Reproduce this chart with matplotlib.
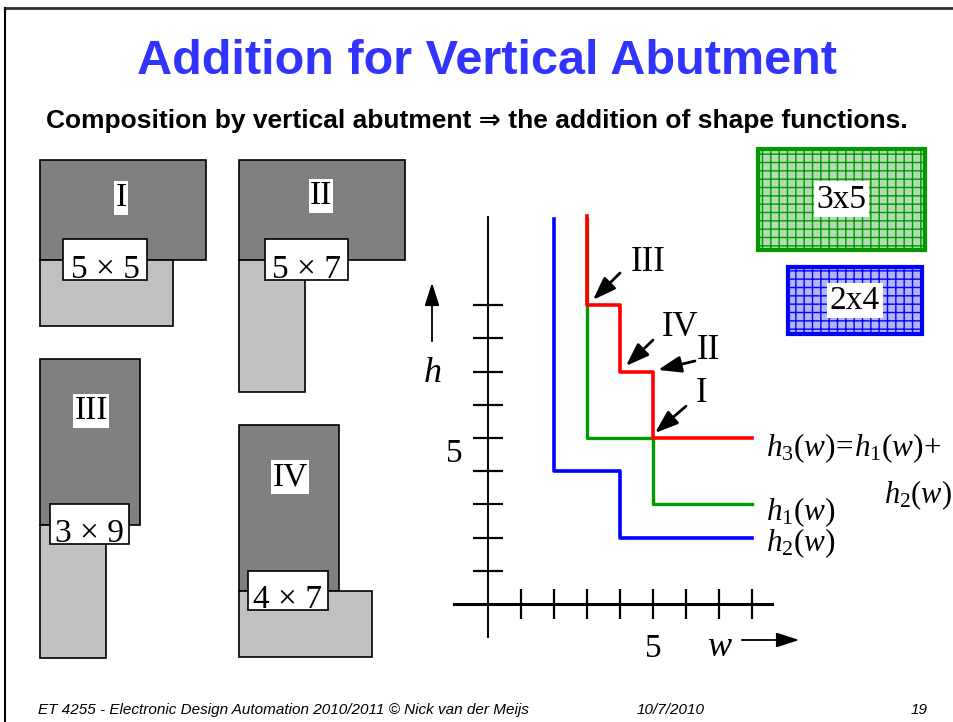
import matplotlib
matplotlib.use('Agg')
import matplotlib.pyplot as plt
from matplotlib.patches import Rectangle

plt.rcParams['mathtext.fontset'] = 'custom'
plt.rcParams['mathtext.rm'] = 'Liberation Serif'
plt.rcParams['mathtext.it'] = 'Liberation Serif:italic'

SERIF = 'Liberation Serif'
SANS = ['Liberation Sans', 'DejaVu Sans']

# shape functions, corner points (w, h)
h1_w = [3, 3, 5, 5, 8]
h1_h = [11.6, 5, 5, 3, 3]
h2_w = [2, 2, 4, 4, 8]
h2_h = [11.6, 4, 4, 2, 2]
h3_w = [3, 3, 4, 4, 5, 5, 8]
h3_h = [11.7, 9, 9, 7, 7, 5, 5]

# pointers to the corners of h3
corner_names = ['III', 'IV', 'II', 'I']
corner_heads = [(3.18, 9.16), (4.18, 7.17), (5.15, 7.05), (5.06, 5.15)]
corner_tails = [(4.0, 9.97), (5.0, 7.95), (6.27, 7.32), (6.0, 5.96)]
corner_text = [(4.85, 10.3), (5.82, 8.34), (6.67, 7.65), (6.48, 6.33)]

# the four compositions on the left
block_names = ['I', 'II', 'III', 'IV']
block_sizes = ['5 × 5', '5 × 7', '3 × 9', '4 × 7']
dark_dims = [(5, 3), (5, 3), (3, 5), (3, 5)]
light_dims = [(4, 2), (2, 4), (2, 4), (4, 2)]

# the two modules on the right
module_names = ['3x5', '2x4']
module_dims = [(5, 3), (4, 2)]

W, H = 954, 722
fig = plt.figure(figsize=(W / 100, H / 100), dpi=100)
ax = fig.add_axes([0, 0, 1, 1])
ax.set_xlim(0, W)
ax.set_ylim(H, 0)
ax.axis('off')

# slide frame
ax.plot([5, W], [8, 8], color='#303030', lw=2)
ax.plot([5, 5], [8, H], color='black', lw=1.5)

ax.text(487, 62, 'Addition for Vertical Abutment', ha='center', va='center',
        fontsize=35, fontweight='bold', color='#3333ff', family=SANS)
ax.text(477, 121, 'Composition by vertical abutment \u21d2 the addition of shape functions.',
        ha='center', va='center', fontsize=19, fontweight='bold', family=SANS)

# blocks
unit = 33.2
block_origin = [(40, 160), (239, 160), (40, 359), (239, 425)]
box_pos = [(63, 239, 84, 41), (265, 239, 83, 41), (50, 504, 79, 40), (248, 571, 80, 39)]
name_pos = [(121, 198), (321, 196), (91, 411), (290, 477)]
for i in range(len(block_names)):
    x0, y0 = block_origin[i]
    dw, dh = dark_dims[i]
    lw_, lh = light_dims[i]
    ax.add_patch(Rectangle((x0, y0), dw * unit, dh * unit, facecolor='#808080',
                           edgecolor='black', lw=1.2))
    ax.add_patch(Rectangle((x0, y0 + dh * unit), lw_ * unit, lh * unit,
                           facecolor='#c0c0c0', edgecolor='black', lw=1.2))
    bx, by, bw, bh = box_pos[i]
    ax.add_patch(Rectangle((bx, by), bw, bh, facecolor='white', edgecolor='black',
                           lw=1.2, zorder=3))
    ax.text(bx + bw / 2, by + bh - 2, block_sizes[i], ha='center', va='baseline',
            fontsize=24, family=SERIF, zorder=4)
    nx, ny = name_pos[i]
    ax.text(nx, ny, block_names[i], ha='center', va='center', fontsize=24,
            family=SERIF, bbox=dict(facecolor='white', edgecolor='none', pad=1))

# modules
mod_unit = 33.5
mod_origin = [(758, 149), (788, 267)]
mod_colors = ['#009900', '#0000ff']
mod_fill = ['#b4dcb4', '#b4b4f4']
for i in range(len(module_names)):
    x0, y0 = mod_origin[i]
    mw, mh = module_dims[i]
    ax.add_patch(Rectangle((x0, y0), mw * mod_unit, mh * mod_unit,
                           facecolor=mod_fill[i], edgecolor=mod_colors[i],
                           hatch='++', lw=0))
    ax.add_patch(Rectangle((x0, y0), mw * mod_unit, mh * mod_unit,
                           facecolor='none', edgecolor=mod_colors[i], lw=3))
    ax.text(x0 + mw * mod_unit / 2, y0 + mh * mod_unit / 2, module_names[i],
            ha='center', va='center', fontsize=24, family=SERIF,
            bbox=dict(facecolor='white', edgecolor='none', pad=2))

# axis arrows and names
ax.annotate('', xy=(432, 280), xytext=(432, 344),
            arrowprops=dict(arrowstyle='-|>,head_length=1.4,head_width=0.45',
                            color='black', lw=1.3))
ax.text(432, 372, '$h$', ha='center', va='center', fontsize=26)
ax.annotate('', xy=(802, 640), xytext=(739, 640),
            arrowprops=dict(arrowstyle='-|>,head_length=1.4,head_width=0.45',
                            color='black', lw=1.3))
ax.text(720, 646, '$w$', ha='center', va='center', fontsize=26)

# curve labels
ax.text(766, 448, r'$h_3(w)\!=\!h_1(w)\!+$', ha='left', va='center', fontsize=22.5)
ax.text(884, 495, r'$h_2(w)$', ha='left', va='center', fontsize=22)
ax.text(766, 512, r'$h_1(w)$', ha='left', va='center', fontsize=22.5)
ax.text(766, 543, r'$h_2(w)$', ha='left', va='center', fontsize=22.5)

# footer
ax.text(38, 710, 'ET 4255 - Electronic Design Automation 2010/2011 \u00a9 Nick van der Meijs',
        ha='left', va='center', fontsize=11, style='italic', family=SANS)
ax.text(637, 710, '10/7/2010', ha='left', va='center', fontsize=11,
        style='italic', family=SANS)
ax.text(928, 710, '19', ha='right', va='center', fontsize=11, style='italic',
        family=SANS)

# the chart
x_left, x_right, y_top, y_bot = 454, 772, 217, 637
ox, oy, sx, sy = 488, 604, 33.0, 33.2
cax = fig.add_axes([x_left / W, 1 - y_bot / H, (x_right - x_left) / W, (y_bot - y_top) / H])
cax.patch.set_alpha(0)
cax.set_xlim((x_left - ox) / sx, (x_right - ox) / sx)
cax.set_ylim((oy - y_bot) / sy, (oy - y_top) / sy)
for s in ['top', 'right']:
    cax.spines[s].set_visible(False)
cax.spines['left'].set_position(('data', 0))
cax.spines['bottom'].set_position(('data', 0))
cax.spines['bottom'].set_linewidth(2.2)
cax.spines['left'].set_linewidth(1.4)

cax.set_xticks(range(1, 9))
cax.set_xticklabels(['5' if t == 5 else '' for t in range(1, 9)])
cax.set_yticks(range(1, 10))
cax.set_yticklabels(['5' if t == 5 else '' for t in range(1, 10)])
cax.tick_params(axis='x', direction='inout', length=22, width=1.6, pad=10,
                labelsize=24)
cax.tick_params(axis='y', direction='inout', length=22, width=1.6, pad=7,
                labelsize=24)
for lab in cax.get_xticklabels() + cax.get_yticklabels():
    lab.set_family(SERIF)
for lab in cax.get_yticklabels():
    lab.set_va('top')

cax.plot(h2_w, h2_h, color='#0000ff', lw=2.6, clip_on=False)
cax.plot(h1_w, h1_h, color='#009900', lw=2.4, clip_on=False)
cax.plot(h3_w, h3_h, color='#ff0000', lw=2.6, clip_on=False)

for i in range(len(corner_names)):
    cax.annotate('', xy=corner_heads[i], xytext=corner_tails[i],
                 arrowprops=dict(arrowstyle='-|>,head_length=1.4,head_width=0.5',
                                 color='black', lw=2, shrinkA=0, shrinkB=0))
    cax.text(corner_text[i][0], corner_text[i][1], corner_names[i], ha='center',
             va='center', fontsize=25, family=SERIF)

fig.savefig('out.png', dpi=100)
